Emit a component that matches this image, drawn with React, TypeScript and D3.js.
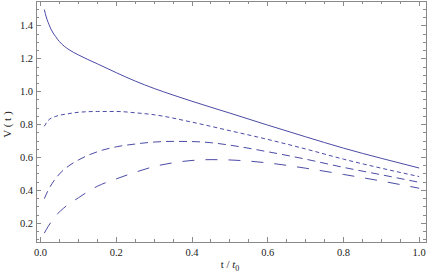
import * as d3 from "d3";

// values (t / t0, V(t))
const solidCurve: [number, number][] = [
  [0.01, 1.5], [0.015, 1.455], [0.02, 1.422], [0.03, 1.37], [0.04, 1.335], [0.05, 1.305],
  [0.075, 1.256], [0.1, 1.224], [0.15, 1.17], [0.2, 1.116], [0.25, 1.065], [0.3, 1.02],
  [0.35, 0.98], [0.4, 0.942], [0.5, 0.87], [0.6, 0.797], [0.7, 0.726], [0.8, 0.657],
  [0.9, 0.595], [1.0, 0.536],
];
const shortDashCurve: [number, number][] = [
  [0.01, 0.79], [0.02, 0.825], [0.04, 0.85], [0.07, 0.865], [0.1, 0.875], [0.15, 0.88],
  [0.2, 0.88], [0.25, 0.872], [0.3, 0.86], [0.4, 0.815], [0.5, 0.763], [0.6, 0.71],
  [0.7, 0.652], [0.8, 0.59], [0.9, 0.535], [1.0, 0.484],
];
const mediumDashCurve: [number, number][] = [
  [0.01, 0.35], [0.02, 0.4], [0.03, 0.44], [0.05, 0.5], [0.075, 0.55], [0.1, 0.585],
  [0.15, 0.635], [0.2, 0.665], [0.25, 0.682], [0.3, 0.694], [0.35, 0.698], [0.4, 0.697],
  [0.45, 0.69], [0.5, 0.675], [0.6, 0.635], [0.7, 0.59], [0.8, 0.54], [0.9, 0.495], [1.0, 0.449],
];
const longDashCurve: [number, number][] = [
  [0.01, 0.14], [0.02, 0.18], [0.04, 0.245], [0.06, 0.29], [0.1, 0.355], [0.15, 0.425],
  [0.2, 0.47], [0.25, 0.51], [0.3, 0.545], [0.35, 0.568], [0.4, 0.582], [0.45, 0.587],
  [0.5, 0.585], [0.6, 0.567], [0.7, 0.535], [0.8, 0.497], [0.9, 0.457], [1.0, 0.413],
];

const xMajor = [0, 0.2, 0.4, 0.6, 0.8, 1.0];
const yMajor = [0.2, 0.4, 0.6, 0.8, 1.0, 1.2, 1.4];

const series = [
  { data: solidCurve, dash: "none" },
  { data: shortDashCurve, dash: "4,3" },
  { data: mediumDashCurve, dash: "8,5" },
  { data: longDashCurve, dash: "12,11" },
];

const W = 427;
const H = 277;
const left = 36, right = 426, top = 1, bottom = 242;
const lineColor = "#4b4ba6";
const frameColor = "#8a8a8a";
const font = "Liberation Serif";

export default function App() {
  const x = d3.scaleLinear().domain([-0.012, 1.018]).range([left, right]);
  const y = d3.scaleLinear().domain([0.086, 1.552]).range([bottom, top]);

  const line = d3
    .line<[number, number]>()
    .x((d) => x(d[0]))
    .y((d) => y(d[1]))
    .curve(d3.curveMonotoneX);

  const xMinor = d3.range(0, 1.0001, 0.05).filter((v) => !xMajor.some((m) => Math.abs(m - v) < 1e-6));
  const yMinor = d3.range(0.1, 1.5001, 0.05).filter((v) => !yMajor.some((m) => Math.abs(m - v) < 1e-6));

  return (
    <svg width={W} height={H} style={{ position: "absolute", left: 0, top: 0 }}>
      <rect width={W} height={H} fill="white" />
      <g stroke={frameColor} strokeWidth={1} shapeRendering="crispEdges">
        <rect x={left} y={top} width={right - left} height={bottom - top} fill="none" />
        {xMajor.map((v) => (
          <g key={"xM" + v}>
            <line x1={x(v)} x2={x(v)} y1={bottom} y2={bottom - 5} />
            <line x1={x(v)} x2={x(v)} y1={top} y2={top + 5} />
          </g>
        ))}
        {xMinor.map((v) => (
          <g key={"xm" + v}>
            <line x1={x(v)} x2={x(v)} y1={bottom} y2={bottom - 3} />
            <line x1={x(v)} x2={x(v)} y1={top} y2={top + 3} />
          </g>
        ))}
        {yMajor.map((v) => (
          <g key={"yM" + v}>
            <line x1={left} x2={left + 5} y1={y(v)} y2={y(v)} />
            <line x1={right} x2={right - 5} y1={y(v)} y2={y(v)} />
          </g>
        ))}
        {yMinor.map((v) => (
          <g key={"ym" + v}>
            <line x1={left} x2={left + 3} y1={y(v)} y2={y(v)} />
            <line x1={right} x2={right - 3} y1={y(v)} y2={y(v)} />
          </g>
        ))}
      </g>

      <g fontFamily={font} fontSize={10.5} fill="#222">
        {xMajor.map((v) => (
          <text key={"xl" + v} x={x(v)} y={bottom + 14} textAnchor="middle">
            {v.toFixed(1)}
          </text>
        ))}
        {yMajor.map((v) => (
          <text key={"yl" + v} x={left - 3} y={y(v) + 3.5} textAnchor="end">
            {v.toFixed(1)}
          </text>
        ))}
        <text x={230} y={268} textAnchor="middle" fontSize={11}>
          t / <tspan fontStyle="italic">t</tspan>
          <tspan fontSize={8} dy={2.5}>0</tspan>
        </text>
        <text transform={`translate(11, ${y(0.8)}) rotate(-90)`} textAnchor="middle" fontSize={11}>
          V ( t )
        </text>
      </g>

      <g fill="none" stroke={lineColor} strokeWidth={1}>
        {series.map((s, i) => (
          <path key={i} d={line(s.data) ?? ""} strokeDasharray={s.dash} />
        ))}
      </g>
    </svg>
  );
}
